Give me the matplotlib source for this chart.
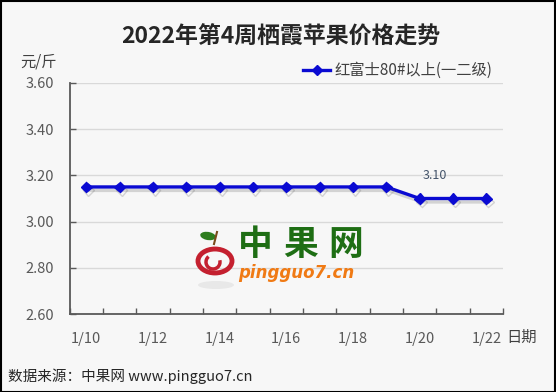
import matplotlib
matplotlib.use("Agg")
import matplotlib.pyplot as plt
import matplotlib.patheffects as pe
from matplotlib.patches import Rectangle, Circle, Ellipse, Arc
import numpy as np

plt.rcParams['font.family'] = ['Noto Sans CJK SC', 'DejaVu Sans']

dates = ["1/10", "1/11", "1/12", "1/13", "1/14", "1/15", "1/16",
         "1/17", "1/18", "1/19", "1/20", "1/21", "1/22"]
prices = [3.15, 3.15, 3.15, 3.15, 3.15, 3.15, 3.15,
          3.15, 3.15, 3.15, 3.10, 3.10, 3.10]
series_name = "红富士80#以上(一二级)"
title = "2022年第4周栖霞苹果价格走势"
y_ticks = [2.60, 2.80, 3.00, 3.20, 3.40, 3.60]
label_value = 3.10

W, H = 556, 392
fig = plt.figure(figsize=(W / 100, H / 100), dpi=100)
bg = "#f7f7f7"
fig.patch.set_facecolor(bg)

def fx(px):
    return px / W

def fy(py):
    return 1 - py / H

ax = fig.add_axes([fx(69.5), fy(314), fx(503) - fx(69.5), fy(83) - fy(314)])
ax.set_facecolor(bg)

x = np.arange(len(dates))
ax.plot(x, prices, color="#0a0ad2", lw=2.4, marker="D", markersize=5.5,
        zorder=3,
        path_effects=[pe.SimpleLineShadow(offset=(1.5, -2.5), alpha=0.22, shadow_color="#555555"),
                      pe.Normal()])

ax.set_xlim(-0.5, len(dates) - 0.5)
ax.set_ylim(2.60, 3.60)

ax.set_yticks(y_ticks)
ax.set_yticklabels([f"{v:.2f}" for v in y_ticks])
ax.grid(axis="y", color="#d9d9d9", lw=1, zorder=0)
ax.set_axisbelow(True)

ax.set_xticks(x[::2])
ax.set_xticklabels(dates[::2])
ax.set_xticks(np.arange(-0.5, len(dates), 1.0), minor=True)
ax.tick_params(axis="x", which="major", length=0, pad=13, labelsize=10.5, labelcolor="#595959")
ax.tick_params(axis="x", which="minor", length=4.5, direction="in", color="#595959", width=1)
ax.tick_params(axis="y", which="major", length=4, direction="in", color="#595959", width=1,
               pad=11, labelsize=10.5, labelcolor="#595959")

for s in ["top", "right"]:
    ax.spines[s].set_visible(False)
for s in ["left", "bottom"]:
    ax.spines[s].set_color("#595959")
    ax.spines[s].set_linewidth(1.3)

# data label
ax.text(10.45, 3.20, f"{label_value:.2f}", ha="center", va="center",
        fontsize=9, color="#44546a")

# title and labels
fig.text(fx(281), fy(37), title, ha="center", va="center", fontsize=16.5,
         fontweight="bold", color="#262626")
fig.text(fx(20), fy(62), "元/斤", ha="left", va="center", fontsize=11, color="#404040")
fig.text(fx(506), fy(337), "日期", ha="left", va="center", fontsize=11, color="#404040")
fig.text(fx(8), fy(376), "数据来源：中果网 www.pingguo7.cn", ha="left", va="center",
         fontsize=10.5, color="#262626")

# legend
fig.add_artist(plt.Line2D([fx(303), fx(330)], [fy(70), fy(70)], color="#0a0ad2", lw=2.4))
fig.add_artist(plt.Line2D([fx(316.5)], [fy(70)], color="#0a0ad2", marker="D", markersize=5.5,
                          lw=0))
fig.text(fx(334), fy(70), series_name, ha="left", va="center", fontsize=11,
         color="#404040")

# watermark logo
fig.add_artist(Ellipse((fx(216), fy(285)), fx(36), 8 / H, color="#dedede", alpha=0.6, lw=0))
fig.add_artist(Circle((fx(215), fy(261)), 17 / W, transform=fig.transFigure,
                      facecolor="none", edgecolor="#c4202f", lw=3.5))
fig.add_artist(Ellipse((fx(208), fy(236)), 16 / W, 8 / H, angle=-20, color="#2e7d1e", lw=0))
fig.add_artist(plt.Line2D([fx(214), fx(217)], [fy(244), fy(232)], color="#7a4a1a", lw=1.5))
fig.add_artist(Arc((fx(213), fy(262)), 14 / W, 14 / H, theta1=120, theta2=380,
                   color="#c4202f", lw=2.5, transform=fig.transFigure))
for ch, cx in zip("中果网", [255, 301, 346]):
    fig.text(fx(cx), fy(245), ch, ha="center", va="center", fontsize=25,
             fontweight="bold", color="#1e6e14")
fig.text(fx(296), fy(273), "pingguo7.cn", ha="center", va="center", fontsize=12,
         fontweight="bold", fontstyle="italic", color="#f07a14", family="DejaVu Sans")

# border
fig.add_artist(Rectangle((0.001, 0.001), 0.997, 0.996, transform=fig.transFigure,
                         fill=False, edgecolor="black", lw=1.5))

fig.savefig("out.png", dpi=100, facecolor=bg)
